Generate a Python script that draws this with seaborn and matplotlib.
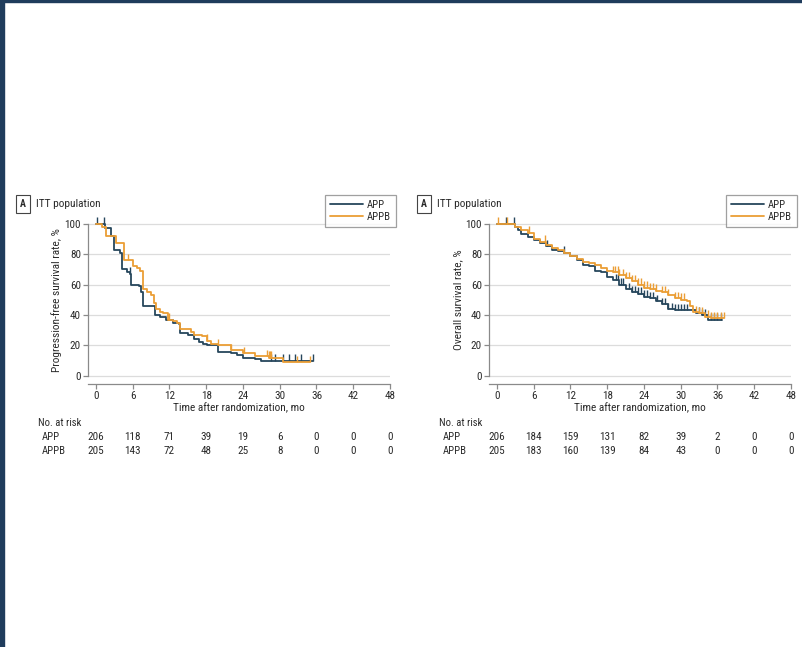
import numpy as np
import pandas as pd
import matplotlib
matplotlib.use("Agg")
import matplotlib.pyplot as plt
import matplotlib.transforms as mtransforms
from matplotlib import font_manager
import seaborn as sns

sns.set_style("white")
names = {f.name for f in font_manager.fontManager.ttflist}
fam = "Liberation Sans"
for cand in ["Roboto Condensed", "Archivo Narrow", "Liberation Sans Narrow", "Liberation Sans"]:
    if cand in names:
        fam = cand
        break
plt.rcParams["font.family"] = [fam, "DejaVu Sans"]

# ---------------- data ----------------
groups = ["APP", "APPB"]
colors = {"APP": "#26465c", "APPB": "#eb9e35"}
xticks = [0, 6, 12, 18, 24, 30, 36, 42, 48]
yticks = [0, 20, 40, 60, 80, 100]

# PFS step curves (time in months, survival %)
pfs_app_t = [0, 1.5, 2.5, 3.0, 4.0, 4.3, 5.0, 5.6, 5.8, 7.0, 7.3, 7.6, 9.2, 9.6, 10.5, 11.5, 12.5, 13.5, 13.8, 15.0, 16.0, 16.8, 17.5, 18.2, 20.0, 22.0, 23.0, 24.0, 26.0, 27.0, 35.5]
pfs_app_s = [100, 97, 92, 83, 81, 70, 68, 67, 60, 59, 55, 46, 46, 40, 39, 37, 35, 34, 28, 27, 24, 22, 21, 20, 16, 15, 14, 12, 11, 10, 10]
pfs_app_c = [0.1, 1.3, 5.6, 28.5, 29.3, 30.5, 31.5, 32.5, 33.5, 35.5]

pfs_appb_t = [0, 1.0, 1.6, 1.7, 3.3, 4.5, 6.0, 6.7, 7.2, 7.6, 8.3, 9.0, 9.5, 9.8, 10.5, 11.0, 11.8, 12.5, 13.2, 13.8, 15.5, 16.0, 17.3, 18.2, 18.8, 20.0, 22.0, 24.0, 26.0, 28.2, 30.5, 35.0]
pfs_appb_s = [100, 98, 97, 92, 87, 76, 72, 71, 69, 57, 55, 53, 48, 44, 42, 41, 37, 36, 35, 31, 29, 27, 26, 23, 21, 20, 17, 15, 13, 12, 9, 9]
pfs_appb_c = [5.3, 12.0, 18.2, 20.0, 22.0, 24.2, 28.0, 28.2, 28.4, 28.6, 32.8, 35.0]

# OS step curves
os_app_t = [0, 3.0, 3.5, 4.0, 5.0, 6.0, 7.0, 8.0, 9.0, 10.0, 11.0, 12.0, 13.0, 14.0, 15.0, 16.0, 17.0, 18.0, 19.0, 20.0, 21.0, 22.0, 23.0, 24.0, 25.0, 26.0, 27.0, 28.0, 29.0, 31.5, 32.5, 33.5, 34.5, 36.8]
os_app_s = [100, 98, 96, 93, 91, 89, 87, 85, 83, 82, 81, 79, 76, 73, 72, 69, 68, 65, 63, 60, 57, 55, 54, 52, 51, 49, 47, 44, 43, 43, 41, 40, 37, 37]
os_app_c = [1.5, 2.8, 8.2, 11.0, 19.5, 19.8, 20.2, 20.6, 21.5, 22.0, 22.5, 23.0, 23.5, 24.0, 24.5, 25.0, 25.5, 26.2, 27.0, 27.5, 28.0, 28.5, 29.0, 29.5, 30.0, 30.5, 31.0, 33.0, 33.5, 34.0, 35.0, 35.5, 36.0, 36.5]

os_appb_t = [0, 3.0, 4.0, 5.0, 6.0, 7.0, 8.0, 9.0, 10.0, 11.0, 12.0, 13.0, 14.0, 15.0, 16.0, 17.0, 18.0, 19.0, 20.0, 21.0, 22.0, 23.0, 24.0, 25.0, 26.0, 27.0, 28.0, 29.0, 30.0, 31.0, 31.5, 32.0, 33.0, 34.0, 35.0, 37.0]
os_appb_s = [100, 98, 96, 94, 90, 88, 86, 84, 83, 81, 79, 77, 75, 74, 73, 71, 69, 68, 66, 64, 62, 60, 58, 57, 56, 55, 53, 51, 50, 49, 46, 42, 41, 39, 38, 38]
os_appb_c = [0.2, 1.6, 5.3, 7.9, 19.0, 19.3, 19.7, 20.0, 20.5, 21.0, 21.5, 22.0, 22.5, 23.0, 23.5, 24.0, 24.5, 25.0, 25.5, 26.0, 27.0, 27.5, 28.0, 29.0, 29.5, 30.0, 30.5, 32.5, 33.0, 33.5, 34.5, 35.0, 35.5, 36.0, 36.5, 37.0]

pfs_risk_app = [206, 118, 71, 39, 19, 6, 0, 0, 0]
pfs_risk_appb = [205, 143, 72, 48, 25, 8, 0, 0, 0]
os_risk_app = [206, 184, 159, 131, 82, 39, 2, 0, 0]
os_risk_appb = [205, 183, 160, 139, 84, 43, 0, 0, 0]

panels = [
    dict(ylabel="Progression-free survival rate, %",
         curves={"APP": (pfs_app_t, pfs_app_s, pfs_app_c), "APPB": (pfs_appb_t, pfs_appb_s, pfs_appb_c)},
         risk={"APP": pfs_risk_app, "APPB": pfs_risk_appb}),
    dict(ylabel="Overall survival rate, %",
         curves={"APP": (os_app_t, os_app_s, os_app_c), "APPB": (os_appb_t, os_appb_s, os_appb_c)},
         risk={"APP": os_risk_app, "APPB": os_risk_appb}),
]

W, H = 803, 647
fig = plt.figure(figsize=(W / 100, H / 100), dpi=100)
fig.patch.set_facecolor("white")
# dark frame strips at left and top
fig.patches.append(plt.Rectangle((0, 0), 4 / W, 1, transform=fig.transFigure, color="#1f3c5c", zorder=10))
fig.patches.append(plt.Rectangle((0, 1 - 2 / H), 1, 2 / H, transform=fig.transFigure, color="#1f3c5c", zorder=10))

ax_left_px = [88, 489]
ax_w_px = 302
ax_top_px, ax_bot_px = 216, 384
text_col = "#2a2a2a"
fs_tick = 8.0
fs_lab = 8.2
fs_small = 7.7

def step_value(t, s, x):
    i = np.searchsorted(t, x, side="right") - 1
    return np.asarray(s)[np.clip(i, 0, len(s) - 1)]

for k, p in enumerate(panels):
    lx = ax_left_px[k]
    ax = fig.add_axes([lx / W, (H - ax_bot_px) / H, ax_w_px / W, (ax_bot_px - ax_top_px) / H])
    ax.set_facecolor("white")
    for g in groups:
        t, s, c = p["curves"][g]
        df = pd.DataFrame({"t": t, "s": s})
        sns.lineplot(data=df, x="t", y="s", ax=ax, color=colors[g], lw=1.3,
                     drawstyle="steps-post", estimator=None, sort=False, label=g, legend=False)
        cy = step_value(np.asarray(t), s, np.asarray(c))
        ax.vlines(c, cy, cy + 4.2, color=colors[g], lw=1.0)
    ax.set_xlim(-1.3, 48)
    ax.set_ylim(-5.3, 105)
    ax.set_xticks(xticks)
    ax.set_yticks(yticks)
    ax.yaxis.grid(True, color="#dcdcdc", lw=0.9)
    ax.set_axisbelow(True)
    for sp in ["top", "right"]:
        ax.spines[sp].set_visible(False)
    for sp in ["left", "bottom"]:
        ax.spines[sp].set_color("#8a8a8a")
        ax.spines[sp].set_linewidth(0.9)
    ax.spines["left"].set_bounds(0, 100)
    ax.tick_params(axis="both", length=3.5, width=0.9, color="#8a8a8a", labelsize=fs_tick,
                   labelcolor=text_col, pad=1.5, direction="out", left=True, bottom=True)
    ax.set_xlabel("Time after randomization, mo", fontsize=fs_lab, color=text_col, labelpad=1.0)
    ax.set_ylabel(p["ylabel"], fontsize=fs_lab, color=text_col, labelpad=2.0)

    # panel label
    fig.text((lx - 68) / W, (H - 204) / H, "A", fontsize=fs_small - 0.6, fontweight="bold", color=text_col,
             va="center", ha="left",
             bbox=dict(boxstyle="square,pad=0.4", fc="white", ec="#444444", lw=0.8))
    fig.text((lx - 52) / W, (H - 204) / H, "ITT population", fontsize=fs_lab, color=text_col,
             va="center", ha="left")

    # legend
    handles = [plt.Line2D([], [], color=colors[g], lw=1.3) for g in groups]
    leg = fig.legend(handles, groups, loc="upper right",
                     bbox_to_anchor=((lx + 308) / W, (H - 195) / H), borderaxespad=0,
                     frameon=True, fancybox=False,
                     fontsize=fs_small, handlelength=3.1, handletextpad=0.4, borderpad=0.45,
                     labelspacing=0.2)
    leg.get_frame().set_edgecolor("#888888")
    leg.get_frame().set_linewidth(0.9)
    for ttxt in leg.get_texts():
        ttxt.set_color(text_col)

    # risk table
    trans = mtransforms.blended_transform_factory(ax.transData, fig.transFigure)
    fig.text((lx - 50) / W, (H - 423) / H, "No. at risk", fontsize=fs_small, color=text_col, va="center")
    for r, g in enumerate(groups):
        yy = (H - 437 - 14 * r) / H
        fig.text((lx - 46) / W, yy, g, fontsize=fs_small, color=text_col, va="center")
        for xt, v in zip(xticks, p["risk"][g]):
            ax.text(xt, yy, str(v), transform=trans, fontsize=fs_tick, color=text_col,
                    ha="center", va="center")

fig.savefig("out.png", dpi=100, facecolor="white")
